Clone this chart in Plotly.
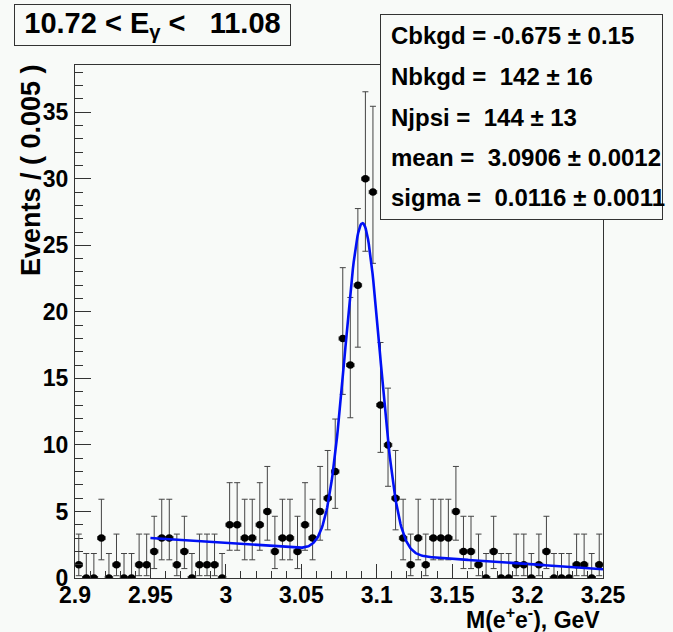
import math
import numpy as np
import plotly.graph_objects as go

# ---- data ----
bin_width = 0.005
x_low, x_high = 2.9, 3.25
bin_centers = [round(x_low + bin_width * (i + 0.5), 4) for i in range(70)]
counts = [
    1, 0, 0, 3, 0, 1, 0, 0, 1, 1,
    2, 3, 3, 1, 2, 0, 1, 1, 1, 0,
    4, 4, 3, 3, 4, 5, 2, 3, 3, 2,
    4, 3, 5, 6, 8, 18, 16, 22, 30, 29,
    13, 10, 6, 3, 1, 3, 1, 3, 3, 3,
    5, 2, 2, 1, 0, 2, 0, 0, 1, 1,
    0, 1, 2, 0, 0, 0, 1, 1, 0, 1,
]

# fit parameters shown in the box
Cbkgd, Cbkgd_err = -0.675, 0.15
Nbkgd, Nbkgd_err = 142, 16
Njpsi, Njpsi_err = 144, 13
mean, mean_err = 3.0906, 0.0012
sigma, sigma_err = 0.0116, 0.0011
curve_range = [2.95, 3.25]

title_text = "10.72 < E<sub>\u03b3</sub> <\u00a0\u00a0\u00a011.08"
stat_lines = [
    f"Cbkgd = {Cbkgd} \u00b1 {Cbkgd_err}",
    f"Nbkgd = \u00a0{Nbkgd} \u00b1 {Nbkgd_err}",
    f"Njpsi = \u00a0{Njpsi} \u00b1 {Njpsi_err}",
    f"mean = \u00a0{mean:.4f} \u00b1 {mean_err:.4f}",
    f"sigma = \u00a0{sigma:.4f} \u00b1 {sigma_err:.4f}",
]


# ---- Poisson (Garwood) error bars, as RooFit draws them ----
def pois_cdf(n, mu):
    s, term = 0.0, math.exp(-mu)
    for k in range(n + 1):
        s += term
        term *= mu / (k + 1)
    return s


def solve(n, target):
    lo, hi = 0.0, n + 10 * math.sqrt(n + 1) + 10
    for _ in range(100):
        mid = 0.5 * (lo + hi)
        if pois_cdf(n, mid) > target:
            lo = mid
        else:
            hi = mid
    return 0.5 * (lo + hi)


a = 0.5 * (1 - math.erf(1 / math.sqrt(2)))
err_hi, err_lo = [], []
for n in counts:
    up = solve(n, a)
    lo = 0.0 if n == 0 else solve(n - 1, 1 - a)
    err_hi.append(up - n)
    err_lo.append(n - lo)

# ---- fit curve (Chebychev-1 background + Gaussian) ----
xc = np.linspace(curve_range[0], curve_range[1], 600)
t = -1 + 2 * (xc - x_low) / (x_high - x_low)
bkg = Nbkgd * (1 + Cbkgd * t) / (x_high - x_low)
sig = Njpsi * np.exp(-0.5 * ((xc - mean) / sigma) ** 2) / (math.sqrt(2 * math.pi) * sigma)
yc = (bkg + sig) * bin_width

BG = "#f8faf8"
FONT = "Liberation Sans"
W, H = 673, 632
L, R, T, B = 75, 70, 65, 54
pw, ph = W - L - R, H - T - B


def px(x):
    return (x - L) / pw


def py(y):
    return (H - B - y) / ph


fig = go.Figure()
fig.add_trace(go.Scatter(
    x=bin_centers, y=counts, mode="markers",
    marker=dict(color="black", size=7.5),
    error_y=dict(type="data", symmetric=False, array=err_hi, arrayminus=err_lo,
                 color="#444444", thickness=1, width=3),
    error_x=dict(type="constant", value=bin_width / 2, color="#444444", thickness=1, width=2),
    showlegend=False, hoverinfo="skip",
))
fig.add_trace(go.Scatter(
    x=xc, y=yc, mode="lines", line=dict(color="#0010f5", width=2.6),
    showlegend=False, hoverinfo="skip",
))

axis_common = dict(
    showline=True, linecolor="#333333", linewidth=1, mirror=True,
    showgrid=False, zeroline=False, ticks="inside", tickcolor="#333333",
    tickfont=dict(family=FONT, size=23, color="black", weight="bold"),
)
fig.update_xaxes(range=[x_low, x_high], dtick=0.05, tick0=2.9, ticklen=14,
                 minor=dict(dtick=0.01, ticks="inside", ticklen=7, tickcolor="#333333"),
                 ticklabelstandoff=-4, **axis_common)
fig.update_yaxes(range=[0, 38.55], dtick=5, ticklen=16,
                 minor=dict(dtick=1, ticks="inside", ticklen=8, tickcolor="#333333"),
                 ticklabelstandoff=1, **axis_common)

annotations = []
# y title
annotations.append(dict(
    xref="paper", yref="paper", x=px(31), y=py(62), xanchor="center", yanchor="top",
    text="Events / ( 0.005 )", textangle=-90, showarrow=False,
    font=dict(family=FONT, size=27, color="black", weight="bold"),
))
# x title
annotations.append(dict(
    xref="paper", yref="paper", x=px(602), y=py(618), xanchor="right", yanchor="middle",
    text="M(e<sup>+</sup>e<sup>-</sup>), GeV", showarrow=False,
    font=dict(family=FONT, size=23, color="black", weight="bold"),
))
# title box
annotations.append(dict(
    xref="paper", yref="paper", x=px(14), y=py(4), xanchor="left", yanchor="top",
    text=title_text, showarrow=False, width=275, height=40, borderpad=0,
    bordercolor="#333333", borderwidth=1, bgcolor=BG, align="center",
    font=dict(family=FONT, size=29, color="black", weight="bold"),
))
# stats box
annotations.append(dict(
    xref="paper", yref="paper", x=px(380), y=py(14), xanchor="left", yanchor="top",
    text=" ", showarrow=False, width=281, height=204, borderpad=0,
    bordercolor="#333333", borderwidth=1, bgcolor=BG,
))
for yy, line in zip([36, 76, 117, 157, 197], stat_lines):
    annotations.append(dict(
        xref="paper", yref="paper", x=px(389), y=py(yy), xanchor="left", yanchor="middle",
        text=line, showarrow=False, align="left",
        font=dict(family=FONT, size=24, color="black", weight="bold"),
    ))

fig.update_layout(
    width=W, height=H, margin=dict(l=L, r=R, t=T, b=B),
    paper_bgcolor=BG, plot_bgcolor=BG, annotations=annotations,
)
fig.write_html("out.html")
